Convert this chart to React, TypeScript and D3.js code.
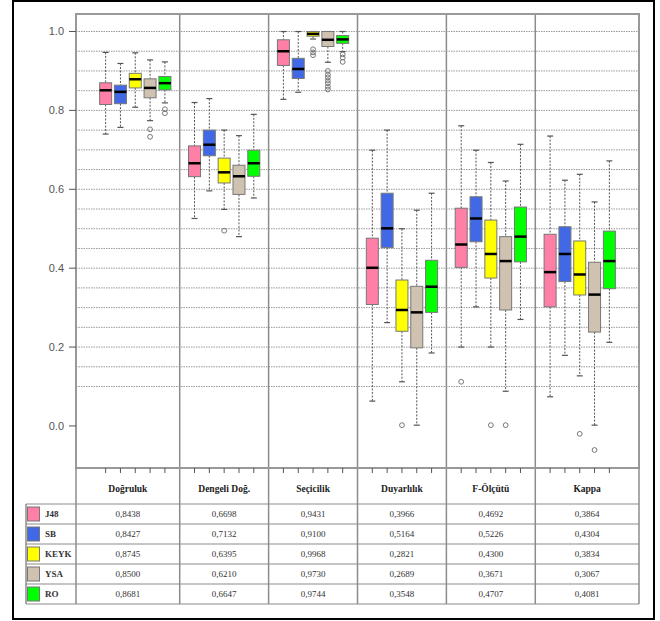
import React from "react";
import * as d3 from "d3";

// metric columns, model rows
const metrics = ["Doğruluk", "Dengeli Doğ.", "Seçicilik", "Duyarlılık", "F-Ölçütü", "Kappa"];
const models = ["J48", "SB", "KEYK", "YSA", "RO"];
const colors = ["#FF7FA7", "#4169E6", "#FFFF00", "#CFC2B0", "#00FF00"];

// [whisker low, q1, median, q3, whisker high] per metric, per model
const dogruluk = [
  [0.740, 0.815, 0.851, 0.870, 0.947],
  [0.757, 0.817, 0.847, 0.864, 0.919],
  [0.808, 0.857, 0.879, 0.894, 0.946],
  [0.774, 0.832, 0.857, 0.880, 0.928],
  [0.819, 0.852, 0.869, 0.886, 0.923],
];
const dengeli = [
  [0.526, 0.632, 0.666, 0.710, 0.820],
  [0.596, 0.685, 0.713, 0.750, 0.830],
  [0.549, 0.616, 0.643, 0.679, 0.750],
  [0.480, 0.587, 0.633, 0.661, 0.736],
  [0.578, 0.633, 0.666, 0.699, 0.790],
];
const secicilik = [
  [0.828, 0.914, 0.950, 0.979, 1.0],
  [0.846, 0.881, 0.905, 0.932, 1.0],
  [0.981, 0.988, 0.994, 1.0, 1.0],
  [0.922, 0.962, 0.979, 1.0, 1.0],
  [0.949, 0.970, 0.980, 0.990, 1.0],
];
const duyarlilik = [
  [0.063, 0.308, 0.401, 0.476, 0.699],
  [0.262, 0.452, 0.501, 0.590, 0.750],
  [0.112, 0.240, 0.294, 0.370, 0.500],
  [0.002, 0.198, 0.288, 0.354, 0.547],
  [0.185, 0.288, 0.353, 0.420, 0.590],
];
const fOlcutu = [
  [0.200, 0.402, 0.460, 0.552, 0.761],
  [0.302, 0.467, 0.526, 0.581, 0.699],
  [0.200, 0.375, 0.436, 0.522, 0.668],
  [0.088, 0.294, 0.418, 0.480, 0.621],
  [0.270, 0.416, 0.480, 0.555, 0.714],
];
const kappa = [
  [0.074, 0.302, 0.390, 0.486, 0.735],
  [0.179, 0.366, 0.436, 0.505, 0.623],
  [0.127, 0.332, 0.384, 0.469, 0.638],
  [0.002, 0.238, 0.333, 0.415, 0.568],
  [0.212, 0.348, 0.418, 0.494, 0.672],
];

// outliers per metric, per model
const outDogruluk = [[], [], [], [0.752, 0.733], [0.803, 0.793]];
const outDengeli = [[], [], [0.495], [], []];
const outSecicilik = [[], [], [0.955, 0.947, 0.940], [0.900, 0.891, 0.884, 0.876, 0.869, 0.860, 0.853], [0.942, 0.934, 0.923]];
const outDuyarlilik = [[], [], [0.002], [], []];
const outFOlcutu = [[0.112], [], [0.002], [0.002], []];
const outKappa = [[], [], [-0.020], [-0.061], []];

// table means, one row per model
const meansJ48 = [0.8438, 0.6698, 0.9431, 0.3966, 0.4692, 0.3864];
const meansSB = [0.8427, 0.7132, 0.9100, 0.5164, 0.5226, 0.4304];
const meansKEYK = [0.8745, 0.6395, 0.9968, 0.2821, 0.4300, 0.3834];
const meansYSA = [0.8500, 0.6210, 0.9730, 0.2689, 0.3671, 0.3067];
const meansRO = [0.8681, 0.6647, 0.9744, 0.3548, 0.4707, 0.4081];

const yTicks = [0, 0.2, 0.4, 0.6, 0.8, 1.0];

const boxes = [dogruluk, dengeli, secicilik, duyarlilik, fOlcutu, kappa];
const outliers = [outDogruluk, outDengeli, outSecicilik, outDuyarlilik, outFOlcutu, outKappa];
const means = [meansJ48, meansSB, meansKEYK, meansYSA, meansRO];

const W = 660;
const H = 621;
const plot = { left: 76, right: 639, top: 14, bottom: 468 };
const tableTop = 468;
const headerBottom = 504;
const rowH = 20;
const tableLeft = 26;

export default function App() {
  // slot positions: 5 boxes + 1 separator per group
  const x = d3.scaleLinear().domain([-2, 36]).range([plot.left, plot.right]);
  const y = d3.scaleLinear().domain([-0.1066, 1.0444]).range([plot.bottom, plot.top]);
  const slot = (g: number, j: number) => g * 6 + j;
  const sepSlots = [5, 11, 17, 23, 29];
  const colEdges = [plot.left, ...sepSlots.map(s => x(s)), plot.right];
  const grid = d3.range(0.1, 1.0001, 0.05);
  const fmt = d3.format(".4f");
  const boxW = 12;
  const capW = 6;
  const serif = "'Liberation Serif', 'Times New Roman', serif";
  const sans = "'Liberation Sans', Arial, sans-serif";
  const tableBottom = headerBottom + rowH * models.length;

  return (
    <svg width={W} height={H} style={{ position: "absolute", left: 0, top: 0, background: "#fff" }}>
      <rect x={13} y={1} width={641} height={618} fill="#fff" stroke="#000" strokeWidth={2} />

      {grid.map((g, i) => (
        <line key={"g" + i} x1={plot.left} x2={plot.right} y1={y(g)} y2={y(g)}
          stroke="#9a9a9a" strokeWidth={1} strokeDasharray="1.5,1" />
      ))}

      {/* column separators, through table */}
      {sepSlots.map(s => (
        <line key={"s" + s} x1={x(s)} x2={x(s)} y1={plot.top} y2={tableBottom}
          stroke="#8c8c8c" strokeWidth={1.5} />
      ))}

      {/* boxplots */}
      {boxes.map((group, g) => group.map((b, j) => {
        const cx = x(slot(g, j));
        const [lo, q1, med, q3, hi] = b;
        return (
          <g key={g + "-" + j}>
            <line x1={cx} x2={cx} y1={y(hi)} y2={y(q3)} stroke="#555" strokeDasharray="2,1.5" />
            <line x1={cx} x2={cx} y1={y(q1)} y2={y(lo)} stroke="#555" strokeDasharray="2,1.5" />
            <line x1={cx - capW / 2} x2={cx + capW / 2} y1={y(hi)} y2={y(hi)} stroke="#555" strokeWidth={1.2} />
            <line x1={cx - capW / 2} x2={cx + capW / 2} y1={y(lo)} y2={y(lo)} stroke="#555" strokeWidth={1.2} />
            <rect x={cx - boxW / 2} y={y(q3)} width={boxW} height={Math.max(1, y(q1) - y(q3))}
              fill={colors[j]} stroke="#777" strokeWidth={1} />
            <line x1={cx - boxW / 2} x2={cx + boxW / 2} y1={y(med)} y2={y(med)} stroke="#000" strokeWidth={2.5} />
            {outliers[g][j].map((o, k) => (
              <circle key={k} cx={cx} cy={y(o)} r={2.4} fill="none" stroke="#777" strokeWidth={1} />
            ))}
          </g>
        );
      }))}

      {/* plot frame */}
      <rect x={plot.left} y={plot.top} width={plot.right - plot.left} height={plot.bottom - plot.top}
        fill="none" stroke="#999" strokeWidth={2} />

      {/* y axis */}
      {yTicks.map(t => (
        <g key={"t" + t}>
          <line x1={69} x2={plot.left} y1={y(t)} y2={y(t)} stroke="#555" strokeWidth={1} />
          <text x={64} y={y(t)} dy="0.35em" textAnchor="end" fontFamily={sans} fontSize={11} fill="#555">
            {d3.format(".1f")(t)}
          </text>
        </g>
      ))}

      {/* x ticks */}
      {boxes.map((group, g) => group.map((_, j) => (
        <line key={"xt" + g + j} x1={x(slot(g, j))} x2={x(slot(g, j))} y1={tableTop} y2={tableTop + 5}
          stroke="#555" strokeWidth={1} />
      )))}

      {/* table */}
      <line x1={plot.left} x2={plot.left} y1={tableTop} y2={tableBottom} stroke="#8c8c8c" strokeWidth={1.5} />
      <line x1={plot.right} x2={plot.right} y1={tableTop} y2={tableBottom} stroke="#8c8c8c" strokeWidth={1.5} />
      <line x1={tableLeft} x2={tableLeft} y1={headerBottom} y2={tableBottom} stroke="#8c8c8c" strokeWidth={1.5} />
      {d3.range(models.length + 1).map(r => (
        <line key={"r" + r} x1={tableLeft} x2={plot.right} y1={headerBottom + r * rowH} y2={headerBottom + r * rowH}
          stroke="#8c8c8c" strokeWidth={1.2} />
      ))}
      {metrics.map((m, c) => (
        <text key={"h" + c} x={(colEdges[c] + colEdges[c + 1]) / 2} y={492} textAnchor="middle"
          fontFamily={serif} fontWeight="bold" fontSize={9.5} fill="#222">{m}</text>
      ))}
      {models.map((m, r) => {
        const yc = headerBottom + r * rowH + rowH / 2;
        return (
          <g key={"row" + m}>
            <rect x={27.5} y={yc - 7} width={12} height={14} fill={colors[r]} stroke="#777" strokeWidth={1} />
            <text x={45} y={yc} dy="0.35em" fontFamily={serif} fontWeight="bold" fontSize={9} fill="#333">{m}</text>
            {means[r].map((v, c) => (
              <text key={c} x={(colEdges[c] + colEdges[c + 1]) / 2} y={yc} dy="0.35em" textAnchor="middle"
                fontFamily={serif} fontSize={9} fill="#333">{fmt(v).replace(".", ",")}</text>
            ))}
          </g>
        );
      })}
    </svg>
  );
}
